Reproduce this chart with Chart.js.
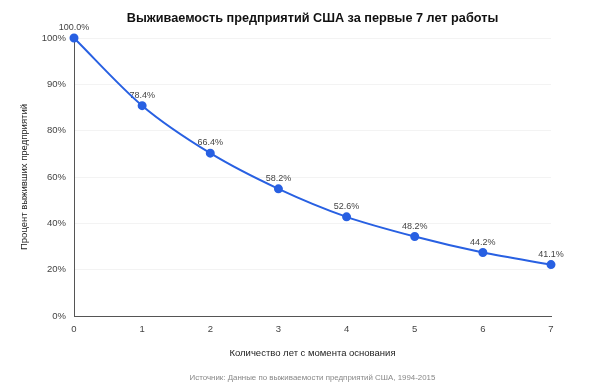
<!DOCTYPE html>
<html>
<head>
<meta charset="utf-8">
<script src="https://cdn.jsdelivr.net/npm/chart.js@4/dist/chart.umd.min.js"></script>
<style>
  html, body { margin: 0; padding: 0; background: #fff; }
  #wrap { width: 591px; height: 388px; }
</style>
</head>
<body>
<div id="wrap"><canvas id="myChart"></canvas></div>
<script>
// years since founding
var years = ['0', '1', '2', '3', '4', '5', '6', '7'];
// labelled survival share, %
var survivalLabels = [100.0, 78.4, 66.4, 58.2, 52.6, 48.2, 44.2, 41.1];
var survivalPlotted = [100, 85.4, 70.3, 54.9, 42.8, 34.3, 27.4, 22.2];
// y axis tick values as printed, bottom to top (equally spaced)
var yTicks = [0, 20, 40, 60, 80, 90, 100];

var titleText = 'Выживаемость предприятий США за первые 7 лет работы';
var sourceText = 'Источник: Данные по выживаемости предприятий США, 1994-2015';
var FONT = "'Liberation Sans', Arial, sans-serif";

// map a value read on the printed axis to its tick slot
function toSlot(v) {
    for (var i = 0; i < yTicks.length - 1; i++) {
        if (v <= yTicks[i + 1]) {
            return i + (v - yTicks[i]) / (yTicks[i + 1] - yTicks[i]);
        }
    }
    return yTicks.length - 1;
}

var textPlugin = {
    id: 'textPlugin',
    // labels go under the line, like in the original
    beforeDatasetsDraw: function(chart) {
        var ctx = chart.ctx;
        var meta = chart.getDatasetMeta(0);
        ctx.save();
        ctx.fillStyle = '#444';
        ctx.font = '9px ' + FONT;
        ctx.textAlign = 'center';
        ctx.textBaseline = 'bottom';
        meta.data.forEach(function(pt, i) {
            ctx.fillText(survivalLabels[i].toFixed(1) + '%', pt.x, pt.y - 6);
        });
        ctx.restore();
    },
    afterDraw: function(chart) {
        var ctx = chart.ctx;
        var a = chart.chartArea;
        var cx = (a.left + a.right) / 2;
        ctx.save();
        ctx.textAlign = 'center';
        ctx.textBaseline = 'middle';
        ctx.fillStyle = '#111';
        ctx.font = 'bold 12.7px ' + FONT;
        ctx.fillText(titleText, cx, 18);
        ctx.fillStyle = '#888';
        ctx.font = '7.9px ' + FONT;
        ctx.fillText(sourceText, cx, 378);
        ctx.restore();
    }
};

var ctx = document.getElementById('myChart').getContext('2d');
var myChart = new Chart(ctx, {
    type: 'line',
    data: {
        labels: years,
        datasets: [{
            label: 'Выживаемость',
            data: survivalPlotted.map(toSlot),
            borderColor: 'rgb(40, 96, 226)',
            backgroundColor: 'rgb(40, 96, 226)',
            borderWidth: 2,
            pointRadius: 3.5,
            pointHoverRadius: 3.5,
            tension: 0.3,
            fill: false,
            clip: false
        }]
    },
    options: {
        responsive: true,
        maintainAspectRatio: false,
        animation: false,
        layout: {
            padding: { top: 38, right: 40, bottom: 24, left: 0 }
        },
        plugins: {
            legend: { display: false },
            tooltip: { enabled: false }
        },
        scales: {
            x: {
                grid: { display: false, drawTicks: false },
                border: { display: true, color: '#555', width: 1 },
                ticks: { color: '#444', padding: 8, font: { family: FONT, size: 9.5 } },
                title: {
                    display: true,
                    text: 'Количество лет с момента основания',
                    color: '#222',
                    font: { family: FONT, size: 9.5 },
                    padding: { top: 0, bottom: 5 }
                },
                afterFit: function(scale) { scale.height = 48; }
            },
            y: {
                min: 0,
                max: yTicks.length - 1,
                ticks: {
                    stepSize: 1,
                    color: '#444',
                    padding: 8,
                    font: { family: FONT, size: 9.5 },
                    callback: function(value) { return yTicks[value] + '%'; }
                },
                grid: { color: '#f3f3f3', drawTicks: false },
                border: { display: true, color: '#555', width: 1 },
                title: {
                    display: true,
                    text: 'Процент выживших предприятий',
                    color: '#222',
                    font: { family: FONT, size: 9.5 },
                    padding: { top: 19, bottom: 0 }
                },
                afterFit: function(scale) { scale.width = 74; }
            }
        }
    },
    plugins: [textPlugin]
});
</script>
</body>
</html>
